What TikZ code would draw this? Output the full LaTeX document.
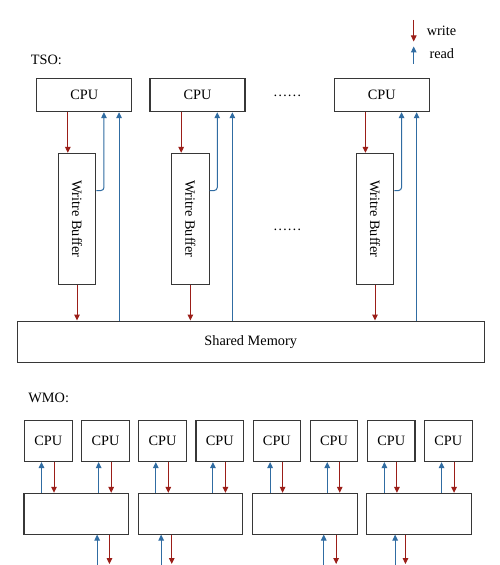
\documentclass[tikz,border=0pt]{standalone}
\usepackage{fontspec}
\setmainfont{Liberation Serif}
\usetikzlibrary{arrows.meta,calc}
\definecolor{wred}{RGB}{155,30,24}
\definecolor{rblue}{RGB}{48,108,162}
\definecolor{boxline}{RGB}{55,55,55}
\tikzset{
  box/.style={draw=boxline, line width=1.1bp, inner sep=0pt, fill=white,
    font=\fontsize{14.3bp}{16bp}\selectfont},
  cpubox/.style={box, minimum width=95bp, minimum height=33.4bp},
  wbbox/.style={box, minimum width=37.4bp, minimum height=130.7bp},
  wcpu/.style={box, minimum width=47.5bp, minimum height=41bp},
  wrect/.style={box, minimum width=104.5bp, minimum height=40.7bp},
  wr/.style={draw=wred, line width=1bp, -{Triangle[length=6bp,width=5.6bp]}},
  rd/.style={draw=rblue, line width=1bp, -{Triangle[length=6bp,width=5.6bp]}},
  lbl/.style={inner sep=0pt, font=\fontsize{14.3bp}{16bp}\selectfont},
}
\begin{document}
\begin{tikzpicture}[x=1bp, y=-1bp]
\fill[white] (0,0) rectangle (500,565);
\useasboundingbox (0,0) rectangle (500,565);
\clip (0,0) rectangle (500,565);

% legend
\coordinate (lw1) at (413.7,20);
\coordinate (lw2) at (413.7,41.5);
\draw[wr] (lw1) -- (lw2);
\node[lbl, anchor=west] (lwt) at (426.7,30.7) {write};
\coordinate (lr1) at (413.7,64);
\coordinate (lr2) at (413.7,46.5);
\draw[rd] (lr1) -- (lr2);
\node[lbl, anchor=west] (lrt) at (429.3,53.3) {read};

% TSO
\node[lbl, anchor=west] (tso) at (30.7,60) {TSO:};
\node[cpubox] (c1) at (84.2,95) {CPU};
\node[cpubox] (c2) at (197.5,95) {CPU};
\node[cpubox] (c3) at (381.8,95) {CPU};
\node[wbbox] (b1) at (77,218.7) {\rotatebox{-90}{Writre Buffer}};
\node[wbbox] (b2) at (190.4,218.7) {\rotatebox{-90}{Writre Buffer}};
\node[wbbox] (b3) at (375,218.7) {\rotatebox{-90}{Writre Buffer}};
\node[lbl, anchor=base] (d1) at (287.3,96.5) {……};
\node[lbl, anchor=base] (d2) at (287.3,230.5) {……};
\node[box, minimum width=466.7bp, minimum height=41.3bp] (mem) at (250.7,341.7) {Shared Memory};

\foreach \i in {1,2,3}{
  \draw[wr] ([xshift=31.7bp]c\i.south west) -- ([xshift=31.7bp]c\i.south west |- b\i.north);
  \draw[wr] (b\i.south) -- (b\i.south |- mem.north);
  \draw[rd, rounded corners=3bp] ([yshift=-37.7bp]b\i.north east) -| ([xshift=67.8bp]c\i.south west);
  \draw[rd] ([xshift=82.9bp]c\i.south west |- mem.north) -- ([xshift=82.9bp]c\i.south west);
}

% WMO
\node[lbl, anchor=west] (wmo) at (28.3,398.3) {WMO:};
\foreach \k/\xl in {1/24,2/81.15,3/138.3,4/195.45,5/252.6,6/309.75,7/366.9,8/424.05}{
  \node[wcpu, anchor=north west] (w\k) at (\xl,420) {CPU};
}
\node[wrect] (r1) at (76.25,513.7) {};
\node[wrect] (r2) at (190.55,513.7) {};
\node[wrect] (r3) at (304.85,513.7) {};
\node[wrect] (r4) at (419.15,513.7) {};
\foreach \k/\r in {1/1,2/1,3/2,4/2,5/3,6/3,7/4,8/4}{
  \draw[rd] ([xshift=17.5bp]w\k.south west |- r\r.north) -- ([xshift=17.5bp]w\k.south west);
  \draw[wr] ([xshift=30bp]w\k.south west) -- ([xshift=30bp]w\k.south west |- r\r.north);
}
\coordinate (bot) at (0,575);
\coordinate (redend) at (0,564);
\foreach \r/\bo/\ro in {1/73.7/86,2/23.4/34,3/71.7/84.1,4/28.8/39.1}{
  \draw[rd] ([xshift=\bo bp]r\r.south west |- bot) -- ([xshift=\bo bp]r\r.south west);
  \draw[wr] ([xshift=\ro bp]r\r.south west) -- ([xshift=\ro bp]r\r.south west |- redend);
}
\end{tikzpicture}
\end{document}
